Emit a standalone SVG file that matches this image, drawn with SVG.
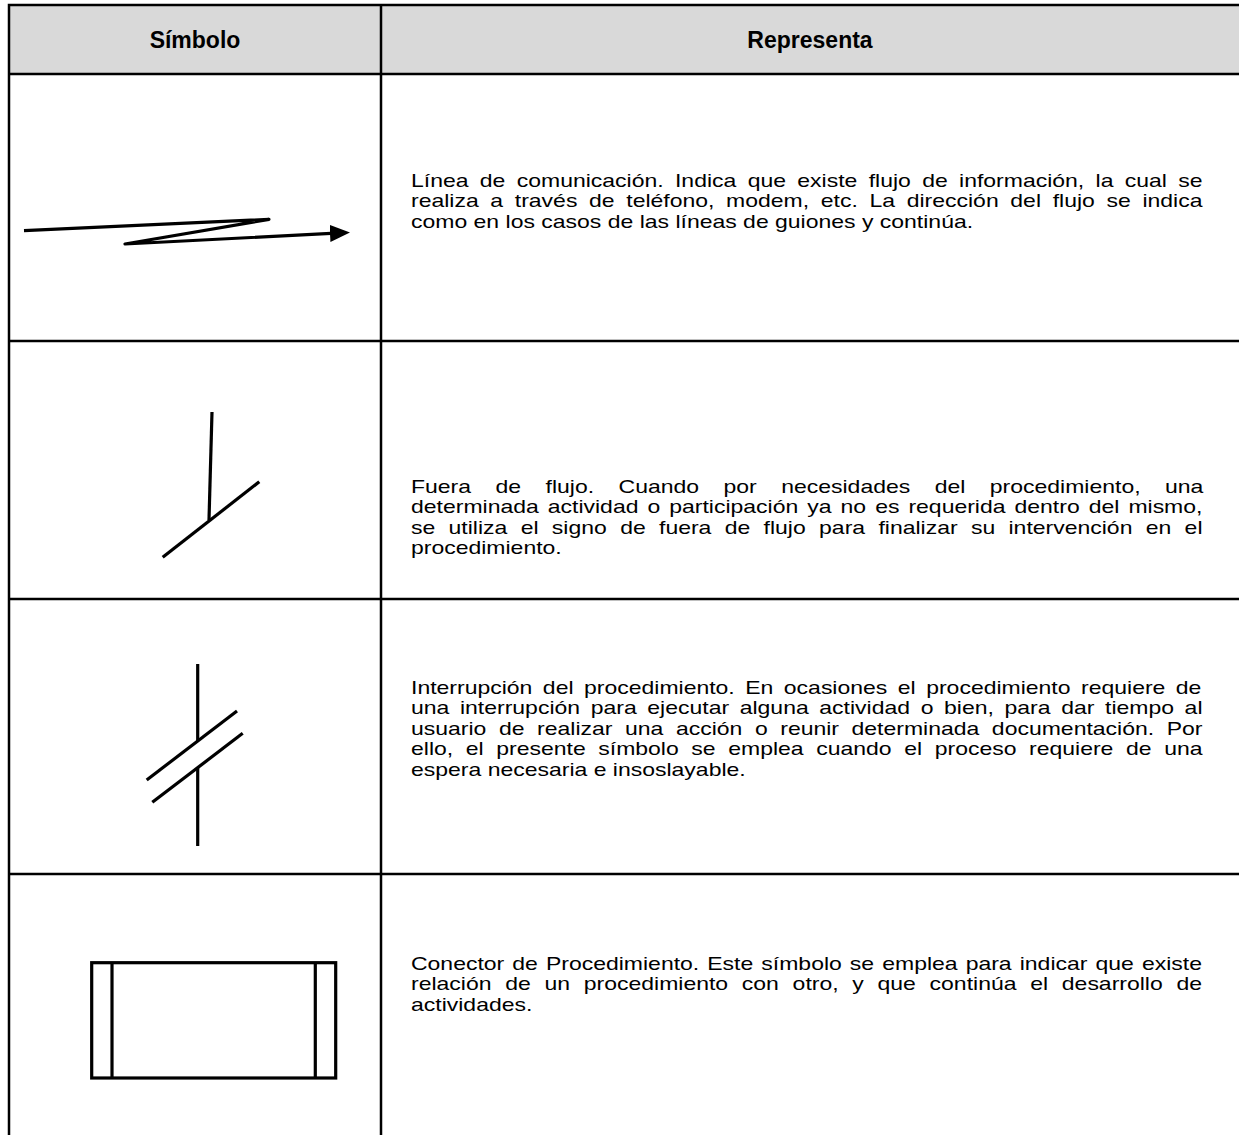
<svg xmlns="http://www.w3.org/2000/svg" width="1239" height="1135" viewBox="0 0 1239 1135">
<style>
.grid{stroke:#000;stroke-width:2.5;fill:none}
.sym{stroke:#000;stroke-width:3.2;fill:none;stroke-linecap:butt}
.hd{font-family:"Liberation Sans",Arial,sans-serif;font-weight:bold;font-size:23px;fill:#000}
.tx{font-family:"Liberation Sans",Arial,sans-serif;font-size:18.3px;fill:#000;font-kerning:none}
</style>
<defs>
<marker id="arr" viewBox="0 0 20 17" markerWidth="20" markerHeight="17" refX="1" refY="8.5" orient="auto" markerUnits="userSpaceOnUse">
<path d="M0,0 L20,8.5 L0,17 z" fill="#000"/>
</marker>
</defs>
<rect x="0" y="0" width="1239" height="1135" fill="#fff"/>
<g id="table">
<rect x="9" y="5" width="1235" height="69" fill="#d9d9d9"/>
<path class="grid" d="M9,1140 V5 H1244 M9,74 H1244 M381,5 V1140 M9,341 H1244 M9,599 H1244 M9,874 H1244"/>
<text class="hd" x="195" y="48" text-anchor="middle">Símbolo</text>
<text class="hd" x="810" y="48" text-anchor="middle">Representa</text>
</g>
<g id="connectors">
<path class="sym" d="M24,230.7 L269,219.3 L125,244 L331,233.4" stroke-width="3.6" stroke-linejoin="round" stroke-linecap="round" marker-end="url(#arr)"/>
</g>
<g id="row1">
<text class="tx" transform="scale(1.2568,1)"><tspan x="327.02" y="187" word-spacing="3.94">Línea de comunicación. Indica que existe flujo de información, la cual se</tspan><tspan x="327.02" y="207.5" word-spacing="4.20">realiza a través de teléfono, modem, etc. La dirección del flujo se indica</tspan><tspan x="327.02" y="228">como en los casos de las líneas de guiones y continúa.</tspan></text>
</g>
<g id="row2">
<line class="sym" x1="212" y1="412" x2="209" y2="520"/>
<line class="sym" x1="162.7" y1="557.3" x2="259.3" y2="481.7"/>
<text class="tx" transform="scale(1.2568,1)"><tspan x="327.02" y="493" word-spacing="14.39">Fuera de flujo. Cuando por necesidades del procedimiento, una</tspan><tspan x="327.02" y="513.5" word-spacing="2.09">determinada actividad o participación ya no es requerida dentro del mismo,</tspan><tspan x="327.02" y="534" word-spacing="5.52">se utiliza el signo de fuera de flujo para finalizar su intervención en el</tspan><tspan x="327.02" y="554.5">procedimiento.</tspan></text>
</g>
<g id="row3">
<line class="sym" x1="197.7" y1="664" x2="197.7" y2="741"/>
<line class="sym" x1="197.7" y1="768" x2="197.7" y2="846"/>
<line class="sym" x1="146.7" y1="780" x2="237" y2="711"/>
<line class="sym" x1="152.3" y1="802.3" x2="242.7" y2="733.3"/>
<text class="tx" transform="scale(1.2568,1)"><tspan x="327.02" y="694" word-spacing="3.27">Interrupción del procedimiento. En ocasiones el procedimiento requiere de</tspan><tspan x="327.02" y="714.5" word-spacing="3.38">una interrupción para ejecutar alguna actividad o bien, para dar tiempo al</tspan><tspan x="327.02" y="735" word-spacing="4.92">usuario de realizar una acción o reunir determinada documentación. Por</tspan><tspan x="327.02" y="755.5" word-spacing="4.95">ello, el presente símbolo se emplea cuando el proceso requiere de una</tspan><tspan x="327.02" y="776">espera necesaria e insoslayable.</tspan></text>
</g>
<g id="row4">
<rect class="sym" x="91.7" y="962.7" width="244" height="115.3"/>
<line class="sym" x1="112" y1="962.7" x2="112" y2="1078"/>
<line class="sym" x1="315.3" y1="962.7" x2="315.3" y2="1078"/>
<text class="tx" transform="scale(1.2568,1)"><tspan x="327.02" y="970" word-spacing="1.34">Conector de Procedimiento. Este símbolo se emplea para indicar que existe</tspan><tspan x="327.02" y="990.5" word-spacing="5.84">relación de un procedimiento con otro, y que continúa el desarrollo de</tspan><tspan x="327.02" y="1011">actividades.</tspan></text>
</g>
</svg>
